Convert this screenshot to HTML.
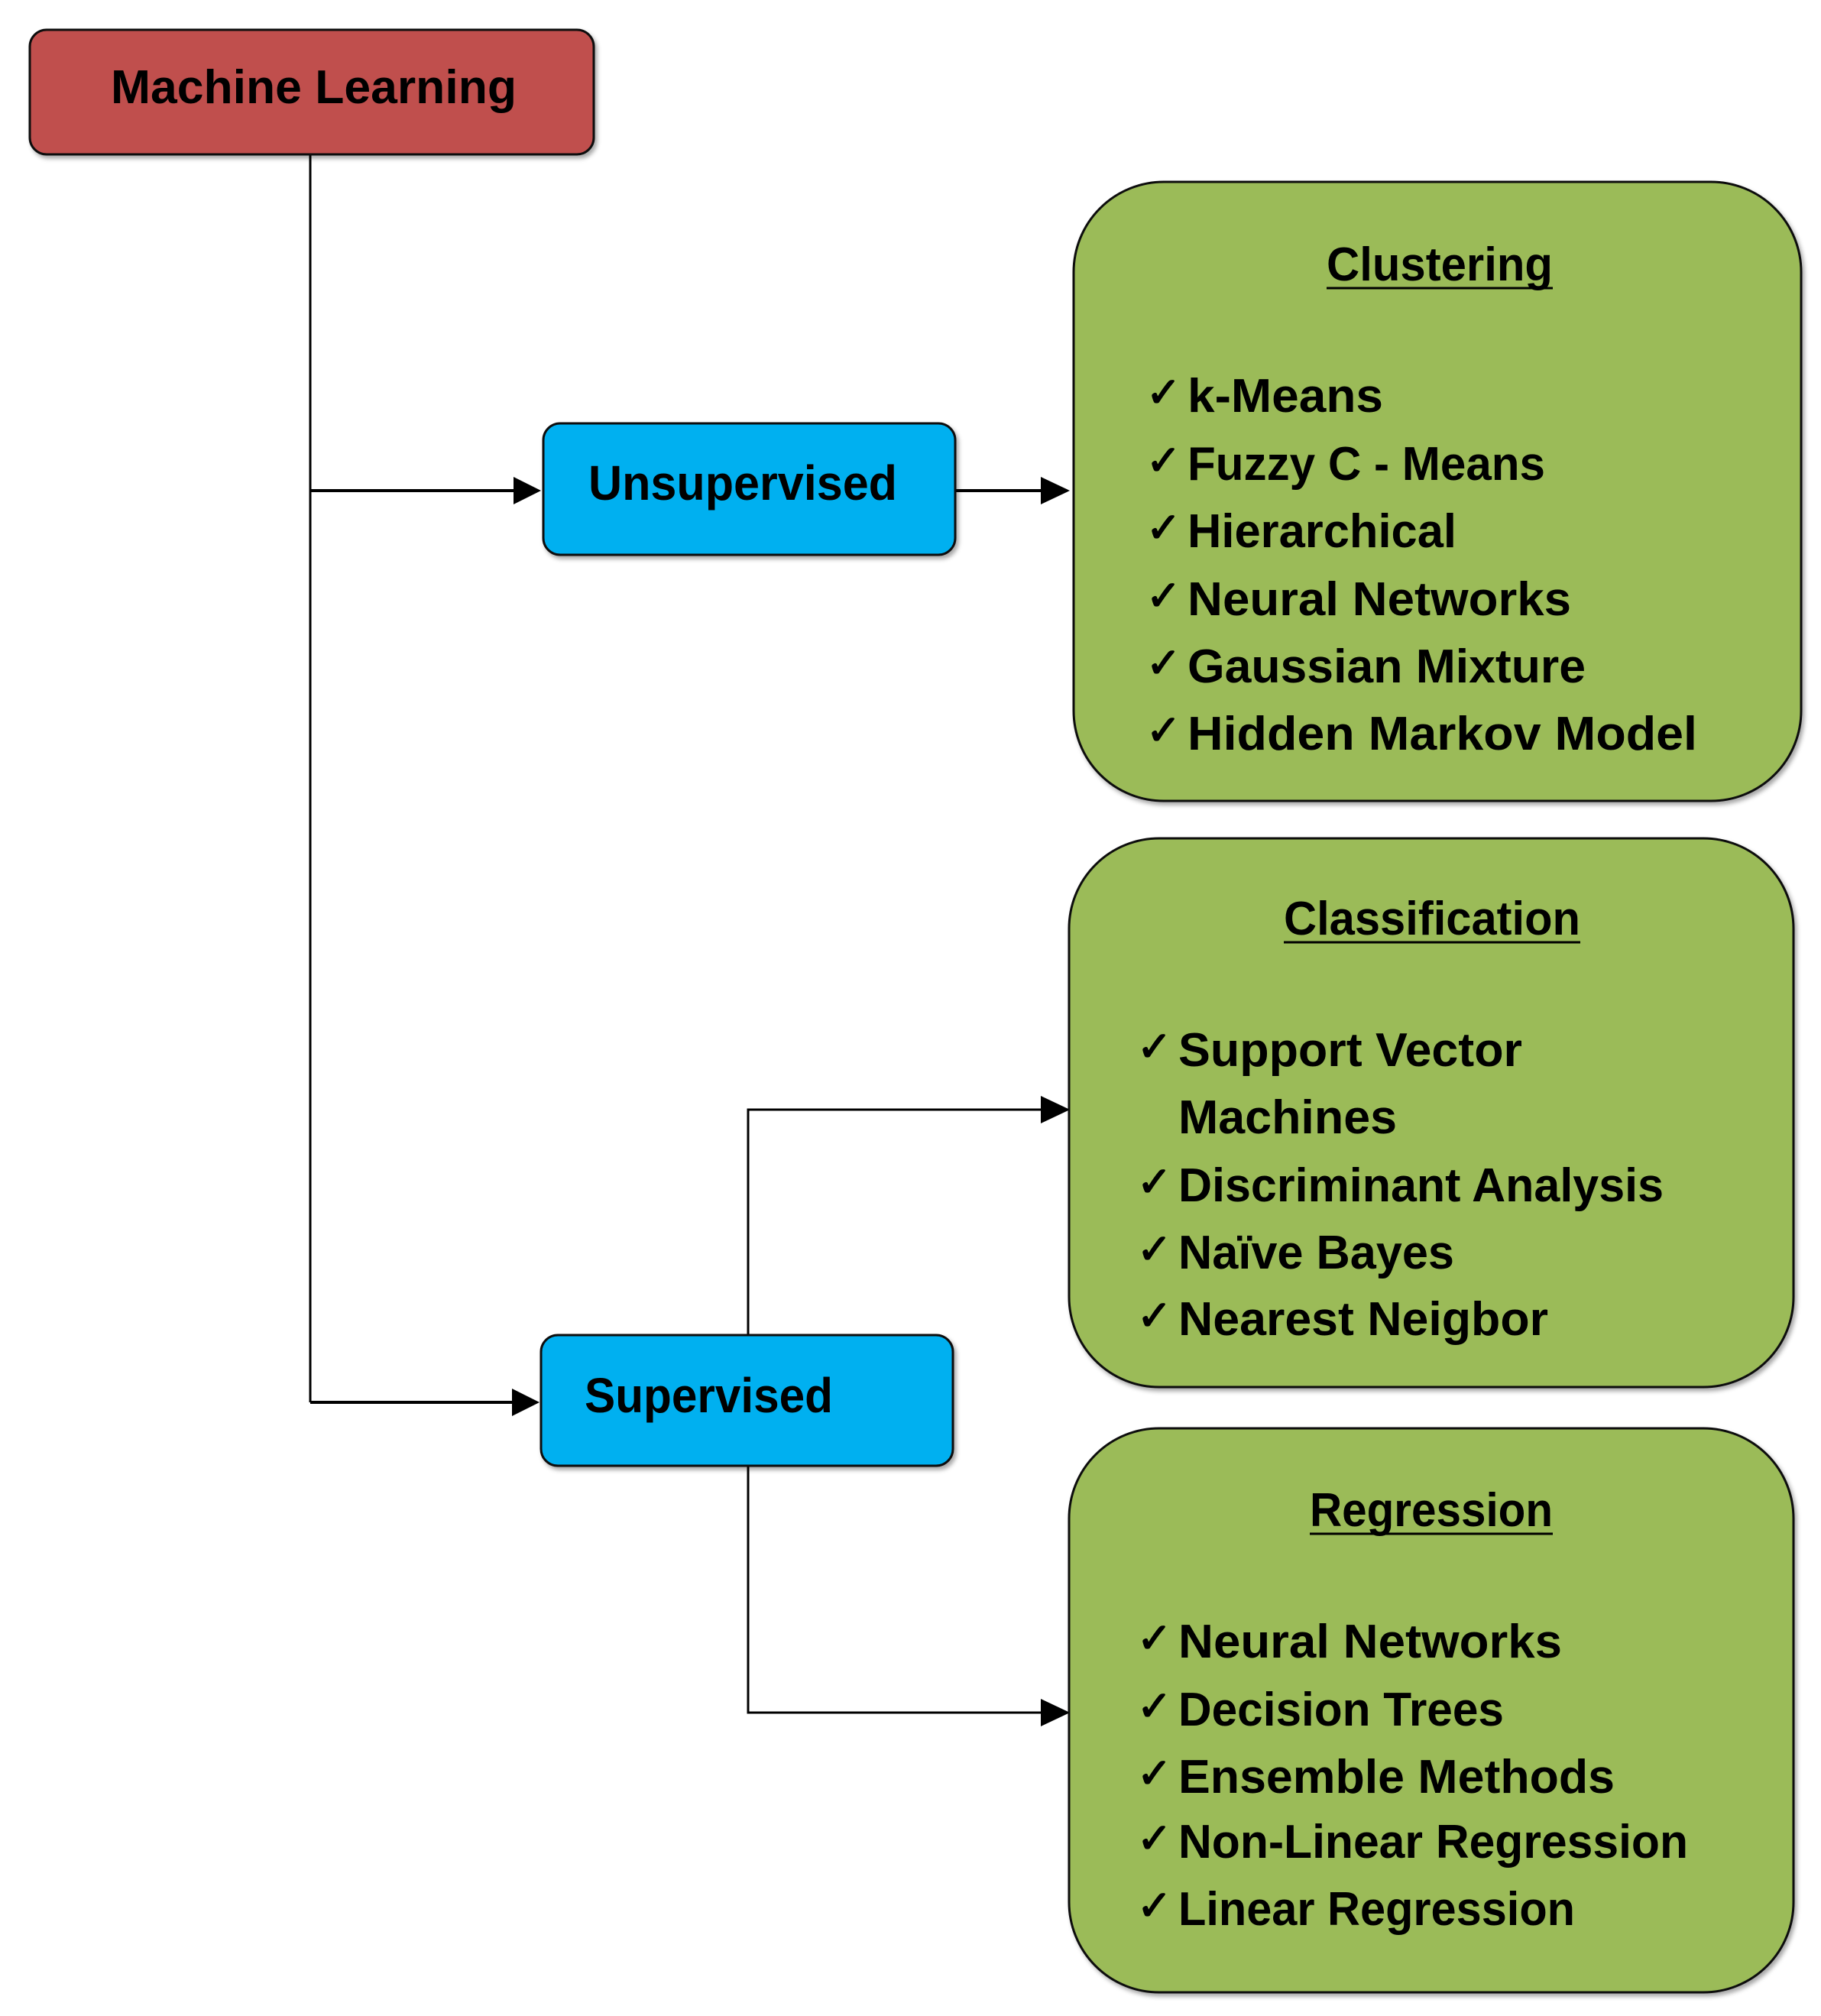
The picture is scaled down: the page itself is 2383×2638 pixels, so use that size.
<!DOCTYPE html>
<html><head><meta charset="utf-8"><style>
html,body{margin:0;padding:0;background:#fff;}
svg{display:block;}
text{font-family:"Liberation Sans",sans-serif;font-weight:bold;fill:#000;}
</style></head><body>
<svg width="2383" height="2638" viewBox="0 0 2383 2638" xmlns="http://www.w3.org/2000/svg">
<defs>
<marker id="ah" markerWidth="10" markerHeight="10" refX="9" refY="5" orient="auto" markerUnits="userSpaceOnUse">
</marker>
<filter id="sh" x="-5%" y="-5%" width="110%" height="110%"><feDropShadow dx="3" dy="4" stdDeviation="3" flood-color="#000" flood-opacity="0.35"/></filter>
</defs>
<!-- connectors -->
<g stroke="#000" stroke-width="3" fill="none">
<line x1="406" y1="202" x2="406" y2="1835"/>
<line x1="406" y1="642" x2="680" y2="642" stroke-width="4"/>
<line x1="1250" y1="642" x2="1370" y2="642" stroke-width="4"/>
<line x1="406" y1="1835" x2="678" y2="1835" stroke-width="4"/>
<polyline points="979,1747 979,1452 1370,1452" stroke-width="3"/>
<polyline points="979,1918 979,2241 1370,2241" stroke-width="3"/>
</g>
<g fill="#000">
<polygon points="672,624 708,642 672,660"/>
<polygon points="1362,624 1400,642 1362,660"/>
<polygon points="670,1817 706,1835 670,1853"/>
<polygon points="1362,1434 1400,1452 1362,1470"/>
<polygon points="1362,2223 1400,2241 1362,2259"/>
</g>
<!-- boxes -->
<g stroke="#111" stroke-width="3" filter="url(#sh)">
<rect x="39" y="39" width="738" height="163" rx="22" fill="#c0504d"/>
<rect x="711" y="554" width="539" height="172" rx="22" fill="#00b0f0"/>
<rect x="708" y="1747" width="539" height="171" rx="22" fill="#00b0f0"/>
<rect x="1405" y="238" width="952" height="810" rx="118" fill="#9bbb59"/>
<rect x="1399" y="1097" width="948" height="718" rx="118" fill="#9bbb59"/>
<rect x="1399" y="1869" width="948" height="738" rx="118" fill="#9bbb59"/>
</g>
<!-- box labels -->
<text x="145" y="135" font-size="62" textLength="531" lengthAdjust="spacingAndGlyphs">Machine Learning</text>
<text x="770" y="654" font-size="64" textLength="404" lengthAdjust="spacingAndGlyphs">Unsupervised</text>
<text x="765" y="1848" font-size="64" textLength="325" lengthAdjust="spacingAndGlyphs">Supervised</text>
<!-- titles -->
<text x="1736" y="367" font-size="62" textLength="296" lengthAdjust="spacingAndGlyphs">Clustering</text>
<line x1="1736" y1="377" x2="2032" y2="377" stroke="#000" stroke-width="3"/>
<text x="1680" y="1223" font-size="62" textLength="388" lengthAdjust="spacingAndGlyphs">Classification</text>
<line x1="1680" y1="1233" x2="2068" y2="1233" stroke="#000" stroke-width="3"/>
<text x="1714" y="1997" font-size="62" textLength="318" lengthAdjust="spacingAndGlyphs">Regression</text>
<line x1="1714" y1="2007" x2="2032" y2="2007" stroke="#000" stroke-width="3"/>
<!-- items -->
<g font-size="62">
<g>
<text x="1500" y="532" font-size="54">✓</text><text x="1554" y="539" textLength="256" lengthAdjust="spacingAndGlyphs">k-Means</text>
<text x="1500" y="621" font-size="54">✓</text><text x="1554" y="628" textLength="468" lengthAdjust="spacingAndGlyphs">Fuzzy C - Means</text>
<text x="1500" y="709" font-size="54">✓</text><text x="1554" y="716" textLength="352" lengthAdjust="spacingAndGlyphs">Hierarchical</text>
<text x="1500" y="798" font-size="54">✓</text><text x="1554" y="805" textLength="502" lengthAdjust="spacingAndGlyphs">Neural Networks</text>
<text x="1500" y="886" font-size="54">✓</text><text x="1554" y="893" textLength="521" lengthAdjust="spacingAndGlyphs">Gaussian Mixture</text>
<text x="1500" y="974" font-size="54">✓</text><text x="1554" y="981" textLength="667" lengthAdjust="spacingAndGlyphs">Hidden Markov Model</text>
</g>
<g>
<text x="1488" y="1388" font-size="54">✓</text><text x="1542" y="1395" textLength="450" lengthAdjust="spacingAndGlyphs">Support Vector</text>
<text x="1542" y="1483" textLength="286" lengthAdjust="spacingAndGlyphs">Machines</text>
<text x="1488" y="1565" font-size="54">✓</text><text x="1542" y="1572" textLength="635" lengthAdjust="spacingAndGlyphs">Discriminant Analysis</text>
<text x="1488" y="1653" font-size="54">✓</text><text x="1542" y="1660" textLength="361" lengthAdjust="spacingAndGlyphs">Naïve Bayes</text>
<text x="1488" y="1740" font-size="54">✓</text><text x="1542" y="1747" textLength="484" lengthAdjust="spacingAndGlyphs">Nearest Neigbor</text>
</g>
<g>
<text x="1488" y="2162" font-size="54">✓</text><text x="1542" y="2169" textLength="502" lengthAdjust="spacingAndGlyphs">Neural Networks</text>
<text x="1488" y="2251" font-size="54">✓</text><text x="1542" y="2258" textLength="426" lengthAdjust="spacingAndGlyphs">Decision Trees</text>
<text x="1488" y="2339" font-size="54">✓</text><text x="1542" y="2346" textLength="571" lengthAdjust="spacingAndGlyphs">Ensemble Methods</text>
<text x="1488" y="2424" font-size="54">✓</text><text x="1542" y="2431" textLength="667" lengthAdjust="spacingAndGlyphs">Non-Linear Regression</text>
<text x="1488" y="2512" font-size="54">✓</text><text x="1542" y="2519" textLength="519" lengthAdjust="spacingAndGlyphs">Linear Regression</text>
</g>
</g>
</svg>
</body></html>
